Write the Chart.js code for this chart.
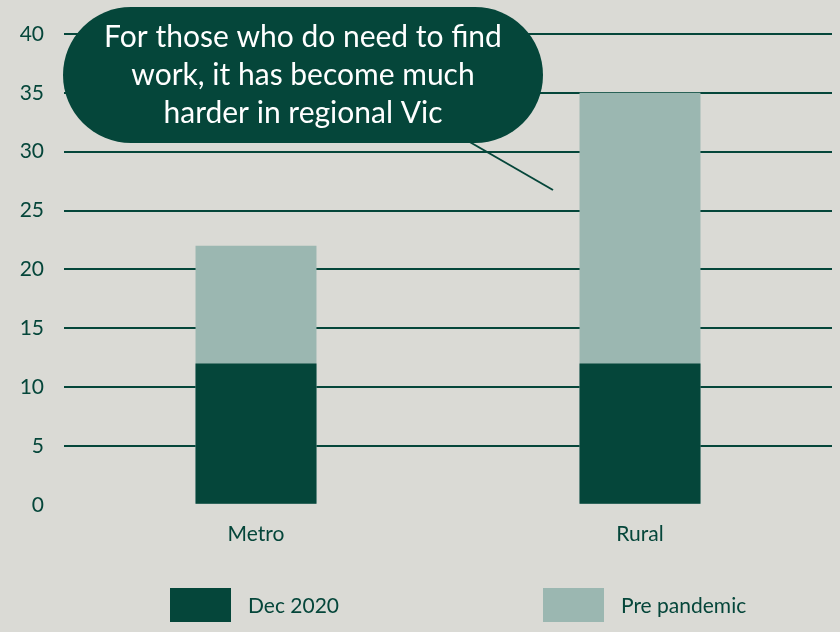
<!DOCTYPE html>
<html>
<head>
<meta charset="utf-8">
<script src="https://cdn.jsdelivr.net/npm/chart.js@4"></script>
<style>
  html, body { margin: 0; padding: 0; background: #dadad5; }
  #wrap { width: 840px; height: 632px; position: relative; }
</style>
</head>
<body>
<div id="wrap"><canvas id="myChart" width="840" height="632"></canvas></div>
<script>
(function () {
    "use strict";

    var categories = ['Metro', 'Rural'];
    var dec2020 = [12, 12];
    var prePandemic = [22, 35];
    var seriesNames = ['Dec 2020', 'Pre pandemic'];
    var yTicks = [0, 5, 10, 15, 20, 25, 30, 35, 40];
    var calloutLines = ['For those who do need to find', 'work, it has become much', 'harder in regional Vic'];

    var dark = '#05463a';
    var light = '#9bb7b1';
    var fontFamily = 'Lato, "Open Sans", sans-serif';

    /* callout bubble + custom legend */
    var extras = {
        id: 'extras',
        afterDraw: function (chart) {
            var ctx = chart.ctx;
            ctx.save();

            // tail line
            ctx.strokeStyle = dark;
            ctx.lineWidth = 2;
            ctx.beginPath();
            ctx.moveTo(468, 141);
            ctx.lineTo(553, 190);
            ctx.stroke();

            // pill
            var x0 = 63, x1 = 543, y0 = 7, y1 = 143, r = (y1 - y0) / 2;
            ctx.fillStyle = dark;
            ctx.beginPath();
            ctx.moveTo(x0 + r, y0);
            ctx.lineTo(x1 - r, y0);
            ctx.arc(x1 - r, y0 + r, r, -Math.PI / 2, Math.PI / 2);
            ctx.lineTo(x0 + r, y1);
            ctx.arc(x0 + r, y0 + r, r, Math.PI / 2, Math.PI * 1.5);
            ctx.closePath();
            ctx.fill();

            ctx.fillStyle = '#ffffff';
            ctx.font = '30px ' + fontFamily;
            ctx.textAlign = 'center';
            ctx.textBaseline = 'middle';
            calloutLines.forEach(function (line, i) {
                ctx.fillText(line, 303, 37 + i * 38);
            });

            // legend
            var boxX = [170, 543];
            chart.data.datasets.forEach(function (ds, i) {
                ctx.fillStyle = ds.backgroundColor;
                ctx.fillRect(boxX[i], 588, 61, 34);
                ctx.fillStyle = dark;
                ctx.font = '21px ' + fontFamily;
                ctx.textAlign = 'left';
                ctx.fillText(ds.label, boxX[i] + 78, 606);
            });
            ctx.restore();
        }
    };

    var ctx = document.getElementById('myChart').getContext('2d');
    var chart = new Chart(ctx, {
        type: 'bar',
        data: {
            labels: categories,
            datasets: [{
                label: seriesNames[0],
                backgroundColor: dark,
                data: dec2020
            }, {
                label: seriesNames[1],
                backgroundColor: light,
                data: prePandemic
            }]
        },
        options: {
            responsive: false,
            animation: false,
            grouped: false,
            barPercentage: 0.315,
            categoryPercentage: 1,
            layout: {
                padding: { top: 34, right: 8, bottom: 76, left: 0 }
            },
            scales: {
                x: {
                    grid: { display: false },
                    border: { display: false },
                    ticks: {
                        color: dark,
                        padding: 9,
                        font: { size: 21, family: fontFamily }
                    }
                },
                y: {
                    min: 0,
                    max: 40,
                    afterFit: function (scale) { scale.width = 64; },
                    afterBuildTicks: function (scale) {
                        scale.ticks = yTicks.map(function (v) { return { value: v }; });
                    },
                    border: { display: false },
                    grid: {
                        drawTicks: false,
                        lineWidth: 2,
                        color: function (c) {
                            return c.tick && c.tick.value === 0 ? 'rgba(0,0,0,0)' : dark;
                        }
                    },
                    ticks: {
                        color: dark,
                        padding: 20,
                        font: { size: 21, family: fontFamily }
                    }
                }
            },
            plugins: {
                legend: { display: false },
                tooltip: { enabled: false }
            }
        },
        plugins: [extras]
    });
})();
</script>
</body>
</html>
